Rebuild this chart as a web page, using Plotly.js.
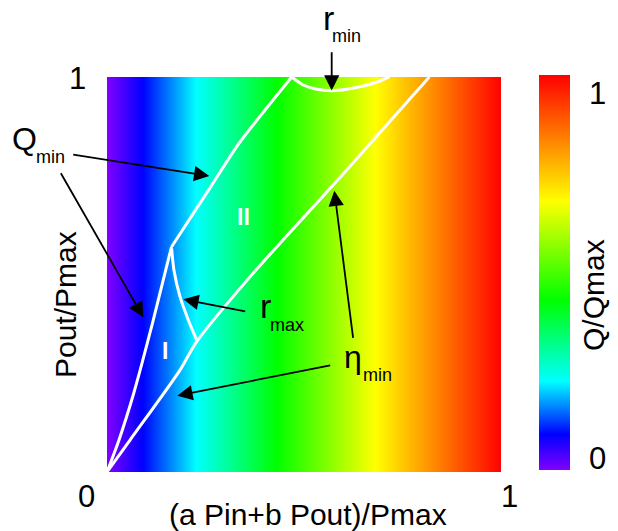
<!DOCTYPE html>
<html>
<head>
<meta charset="utf-8">
<script src="https://cdn.plot.ly/plotly-3.0.1.min.js"></script>
<style>html,body{margin:0;padding:0;background:#fff;}#plot{width:618px;height:531px;}</style>
</head>
<body>
<div id="plot"></div>
<script>
// ---- data ----
// Q/Qmax gradient along the x axis (value at left and right edge)
const gradX = [0, 1];
const gradY = [0, 1];
const gradZ = [[0, 1], [0, 1]];

// Q_min boundary, lower segment (origin -> kink)
const qminLowX = [0, 0.030, 0.068, 0.1176, 0.1636];
const qminLowY = [0, 0.080, 0.200, 0.385, 0.5696];
// Q_min boundary, upper segment (kink -> top edge)
const qminUpX = [0.1636, 0.2593, 0.334, 0.4688];
const qminUpY = [0.5696, 0.716, 0.831, 1.0];
// eta_min boundary
const etaX = [0, 0.0584, 0.1853, 0.2277, 0.3629, 0.600, 0.818];
const etaY = [0, 0.081, 0.258, 0.330, 0.494, 0.755, 1.0];
// r_max boundary
const rmaxX = [0.1641, 0.170, 0.1853, 0.2064, 0.2276];
const rmaxY = [0.566, 0.511, 0.444, 0.385, 0.334];
// r_min boundary
const rminX = [0.4688, 0.4983, 0.5322, 0.5703, 0.6084, 0.6505, 0.6929, 0.7165];
const rminY = [1.0, 0.9797, 0.9689, 0.9653, 0.9689, 0.9772, 0.9899, 1.0];

// ---- layout geometry ----
const W = 618, H = 531, L = 107, R = 501, T = 77, B = 472;
const fx = p => (p - L) / (R - L);
const fy = p => (B - p) / (B - T);
const FONT = 'Liberation Sans, Arial, sans-serif';

const colorscale = [
  [0, '#8000ff'], [0.09, '#0000ff'], [0.225, '#00ffff'],
  [0.43, '#00ff00'], [0.68, '#ffff00'], [0.84, '#ff8000'], [1, '#ff0000']
];

const lineStyle = {color: '#ffffff', width: 3};
const traces = [
  {type: 'heatmap', x: gradX, y: gradY, z: gradZ, zmin: 0, zmax: 1, zsmooth: 'best',
   colorscale: colorscale, hoverinfo: 'skip',
   colorbar: {x: fx(539), xanchor: 'left', y: fy(272.5), yanchor: 'middle',
              len: 1, lenmode: 'fraction', thickness: 31, thicknessmode: 'pixels',
              xpad: 0, ypad: 0, outlinewidth: 0, showticklabels: false, ticks: ''}},
  {type: 'scatter', mode: 'lines', x: qminLowX, y: qminLowY, line: Object.assign({shape: 'spline', smoothing: 0.6}, lineStyle), showlegend: false},
  {type: 'scatter', mode: 'lines', x: qminUpX, y: qminUpY, line: Object.assign({shape: 'spline', smoothing: 0.6}, lineStyle), showlegend: false},
  {type: 'scatter', mode: 'lines', x: etaX, y: etaY, line: Object.assign({shape: 'spline', smoothing: 0.8}, lineStyle), showlegend: false},
  {type: 'scatter', mode: 'lines', x: rmaxX, y: rmaxY, line: Object.assign({shape: 'spline', smoothing: 0.8}, lineStyle), showlegend: false},
  {type: 'scatter', mode: 'lines', x: rminX, y: rminY, line: Object.assign({shape: 'spline', smoothing: 0.8}, lineStyle), showlegend: false}
];

function txt(text, px, py, size, extra) {
  return Object.assign({text: text, xref: 'paper', yref: 'paper', x: fx(px), y: fy(py),
    xanchor: 'center', yanchor: 'middle', showarrow: false,
    font: {family: FONT, size: size, color: '#000000'}}, extra || {});
}
function arrow(tailPx, tailPy, tipPx, tipPy) {
  return {text: '', xref: 'x', yref: 'y', axref: 'x', ayref: 'y',
    x: fx(tipPx), y: fy(tipPy), ax: fx(tailPx), ay: fy(tailPy),
    showarrow: true, arrowhead: 2, arrowsize: 1.7, arrowwidth: 1.8,
    arrowcolor: '#000000', standoff: 0, startstandoff: 0};
}

const annotations = [
  // axis end labels
  txt('0', 86, 496, 31), txt('1', 509, 496, 31), txt('1', 77, 78, 31),
  // colorbar labels
  txt('1', 597, 93, 31), txt('0', 597, 458, 31),
  // titles
  txt('(a Pin+b Pout)/Pmax', 308, 514, 30),
  txt('Pout/Pmax', 65, 305, 30, {textangle: -90}),
  txt('Q/Qmax', 593, 295, 30, {textangle: -90}),
  // region labels
  txt('<b>I</b>', 165, 351, 23, {font: {family: FONT, size: 23, color: '#ffffff'}}),
  txt('<b>II</b>', 243, 217, 23, {font: {family: FONT, size: 23, color: '#ffffff'}}),
  // r_min
  txt('r', 328, 18, 34), txt('min', 346, 36, 18),
  arrow(331.7, 50.7, 331.7, 90.5),
  // Q_min
  txt('Q', 24, 139, 32), txt('min', 50.5, 157, 18),
  arrow(71.7, 154.3, 209.3, 176),
  arrow(60, 171.7, 143.3, 317.3),
  // r_max
  txt('r', 265.7, 306, 34), txt('max', 286.7, 324.7, 18),
  arrow(246.7, 311.7, 183.3, 299.3),
  // eta_min
  txt('η', 352.5, 357, 32), txt('min', 377.5, 374.7, 18),
  arrow(331.7, 365, 177.3, 395.7),
  arrow(353.3, 339.3, 334.3, 190.7)
];

const layout = {
  width: W, height: H,
  margin: {l: L, r: W - R, t: T, b: H - B, pad: 0},
  paper_bgcolor: '#ffffff', plot_bgcolor: '#ffffff',
  showlegend: false,
  xaxis: {range: [0, 1], showgrid: false, zeroline: false, showline: false, showticklabels: false, ticks: '', fixedrange: true},
  yaxis: {range: [0, 1], showgrid: false, zeroline: false, showline: false, showticklabels: false, ticks: '', fixedrange: true},
  annotations: annotations,
  font: {family: FONT}
};

Plotly.newPlot('plot', traces, layout, {staticPlot: true, displayModeBar: false});
</script>
</body>
</html>
